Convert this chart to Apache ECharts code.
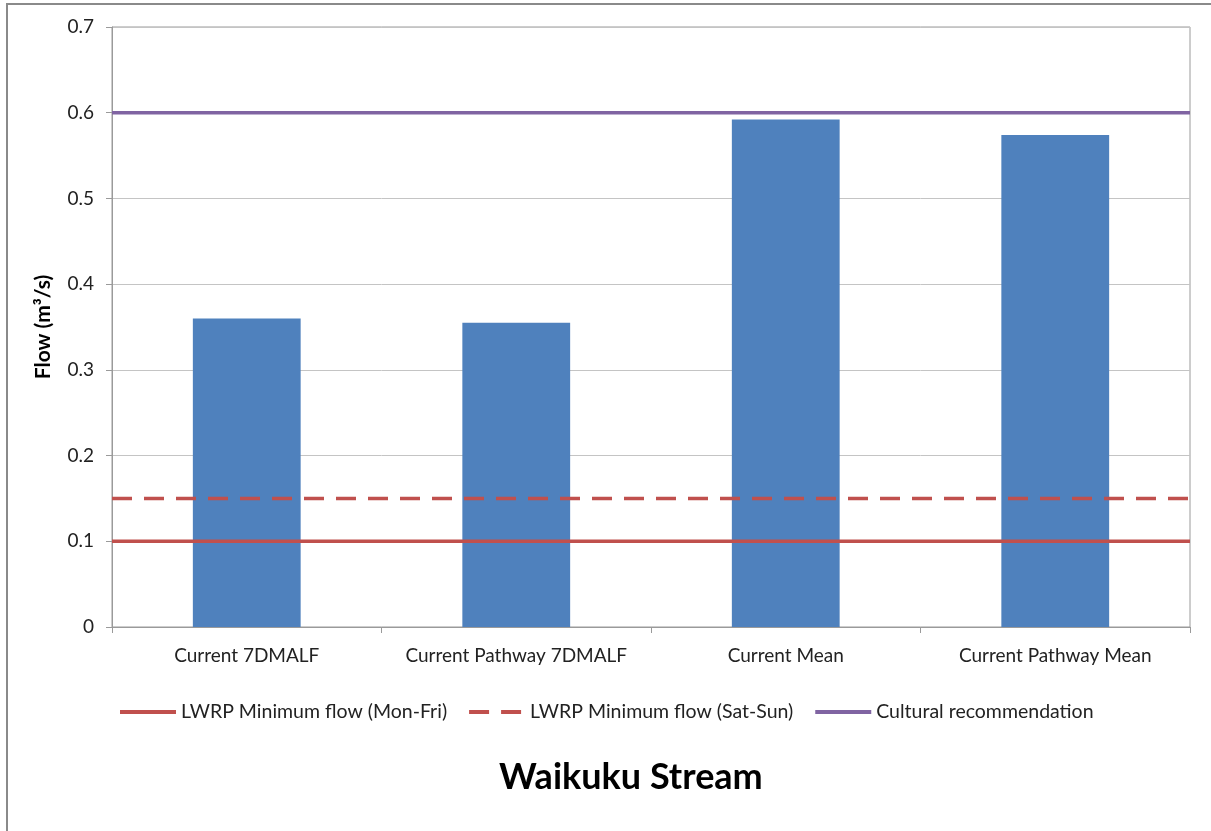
<!DOCTYPE html>
<html>
<head>
<meta charset="utf-8">
<script src="https://cdn.jsdelivr.net/npm/echarts@6/dist/echarts.min.js"></script>
<style>
  html, body { margin: 0; padding: 0; background: #fff; }
  #chart { width: 1211px; height: 831px; }
</style>
</head>
<body>
<div id="chart"></div>
<script>
// Categories and bar values (m3/s)
var categories = ['Current 7DMALF', 'Current Pathway 7DMALF', 'Current Mean', 'Current Pathway Mean'];
var flowValues = [0.36, 0.355, 0.592, 0.574];

// Reference flow levels drawn across the whole plot
var lineNames = ['LWRP Minimum flow (Mon-Fri)', 'LWRP Minimum flow (Sat-Sun)', 'Cultural recommendation'];
var lineLevels = [0.1, 0.15, 0.6];
var lineColors = ['#C0504D', '#C0504D', '#8064A2'];
var lineTypes = ['solid', [20, 12], 'solid'];

var font = 'Lato, "Open Sans", sans-serif';

// a line series spanning the hidden 0..1 x axis
function levelSeries(i) {
  return {
    name: lineNames[i],
    type: 'line',
    xAxisIndex: 1,
    symbol: 'none',
    silent: true,
    z: 5,
    data: [[0, lineLevels[i]], [1, lineLevels[i]]],
    lineStyle: { color: lineColors[i], width: 3.5, type: lineTypes[i] },
    itemStyle: { color: lineColors[i], opacity: 0 }
  };
}

var option = {
  animation: false,
  backgroundColor: '#fff',
  textStyle: { fontFamily: font },
  graphic: [{
    type: 'rect',
    shape: { x: 7, y: 4, width: 1260, height: 900 },
    style: { fill: null, stroke: '#8a8a8a', lineWidth: 2 },
    silent: true
  }],
  title: {
    text: 'Waikuku Stream',
    left: 494,
    top: 754,
    textStyle: { fontFamily: font, fontSize: 36, fontWeight: 'bold', color: '#000' }
  },
  legend: {
    data: lineNames,
    top: 697,
    left: 113,
    itemWidth: 56,
    itemHeight: 14,
    itemGap: 20,
    lineStyle: { width: 4 },
    textStyle: { fontFamily: font, fontSize: 19.5, color: '#222', padding: [0, 0, 0, 0] }
  },
  grid: {
    left: 112, right: 21, top: 27, bottom: 204,
    show: true, borderColor: '#9a9a9a', borderWidth: 1
  },
  xAxis: [{
    type: 'category',
    data: categories,
    axisLine: { lineStyle: { color: '#9a9a9a' } },
    axisTick: { show: true, length: 6, lineStyle: { color: '#9a9a9a' } },
    axisLabel: { interval: 0, fontFamily: font, fontSize: 19, color: '#222', margin: 19 }
  }, {
    type: 'value',
    min: 0, max: 1,
    show: false
  }],
  yAxis: {
    type: 'value',
    min: 0, max: 0.7, interval: 0.1,
    name: 'Flow (m³/s)',
    nameLocation: 'middle',
    nameGap: 58,
    nameTextStyle: { fontFamily: font, fontSize: 21, fontWeight: 'bold', color: '#000' },
    axisLine: { show: true, lineStyle: { color: '#9a9a9a' } },
    axisTick: { show: true, length: 6, lineStyle: { color: '#9a9a9a' } },
    axisLabel: { fontFamily: font, fontSize: 19, color: '#222', margin: 18,
      formatter: function (v) { return v === 0 ? '0' : v.toFixed(1); } },
    splitLine: { lineStyle: { color: '#c4c4c4' } }
  },
  series: [{
    name: 'Flow',
    type: 'bar',
    data: flowValues,
    barWidth: '40%',
    itemStyle: { color: '#4F81BD' },
    z: 2
  }, levelSeries(0), levelSeries(1), levelSeries(2)]
};

echarts.init(document.getElementById('chart')).setOption(option);
</script>
</body>
</html>
